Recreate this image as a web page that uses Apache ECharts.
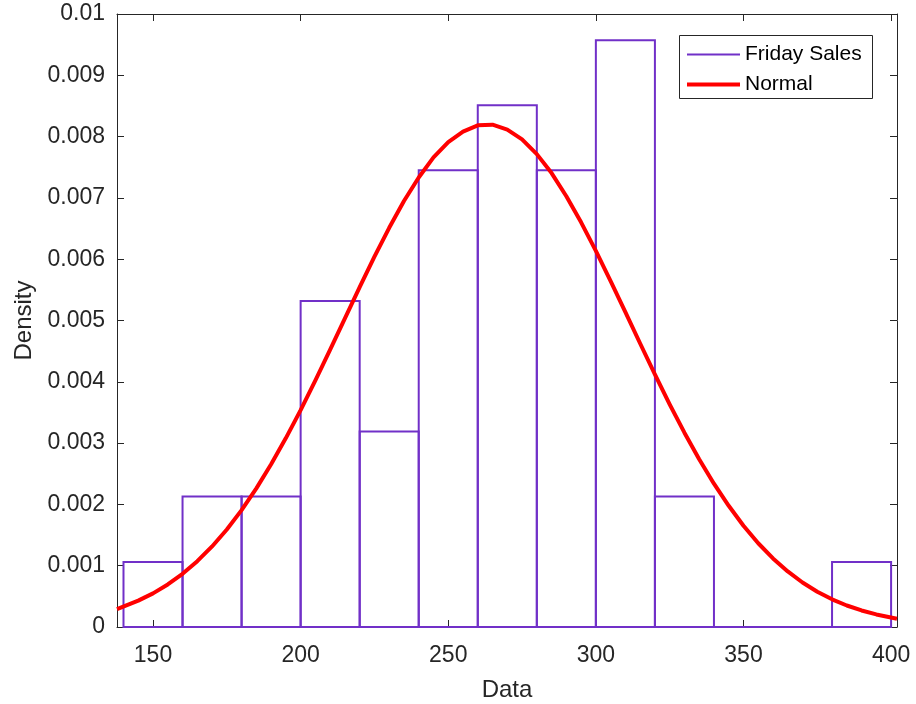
<!DOCTYPE html>
<html>
<head>
<meta charset="utf-8">
<script src="https://cdn.jsdelivr.net/npm/echarts@6/dist/echarts.min.js"></script>
<style>html,body{margin:0;padding:0;background:#fff;}#c{width:916px;height:704px;}</style>
</head>
<body>
<div id="c"></div>
<script>
// Histogram bins (Friday Sales)
var binStart = [140, 160, 180, 200, 220, 240, 260, 280, 300, 320, 340, 360, 380];
var binEnd   = [160, 180, 200, 220, 240, 260, 280, 300, 320, 340, 360, 380, 400];
var density  = [0.00106, 0.00213, 0.00213, 0.00532, 0.00319, 0.00745, 0.00851, 0.00745, 0.00957, 0.00213, 0, 0, 0.00106];

// Normal fit curve
var normX = [137.8, 145, 150, 155, 160, 165, 170, 175, 180, 185, 190, 195, 200, 205, 210, 215, 220, 225, 230, 235, 240, 245, 250, 255, 260, 265, 270, 275, 280, 285, 290, 295, 300, 305, 310, 315, 320, 325, 330, 335, 340, 345, 350, 355, 360, 365, 370, 375, 380, 385, 390, 395, 402];
var normY = [0.000290, 0.000431, 0.000549, 0.000694, 0.000868, 0.001074, 0.001314, 0.001591, 0.001907, 0.002262, 0.002654, 0.003082, 0.003539, 0.004022, 0.004525, 0.005036, 0.005544, 0.006040, 0.006512, 0.006949, 0.007332, 0.007661, 0.007911, 0.008081, 0.008184, 0.008195, 0.008115, 0.007954, 0.007714, 0.007405, 0.007027, 0.006602, 0.006137, 0.005643, 0.005137, 0.004625, 0.004122, 0.003633, 0.003170, 0.002737, 0.002338, 0.001977, 0.001652, 0.001366, 0.001119, 0.000906, 0.000726, 0.000576, 0.000452, 0.000351, 0.000270, 0.000205, 0.000135];

var xTicks = [150, 200, 250, 300, 350, 400];
var yTicks = [0, 0.001, 0.002, 0.003, 0.004, 0.005, 0.006, 0.007, 0.008, 0.009, 0.01];
var yTickLabels = ['0', '0.001', '0.002', '0.003', '0.004', '0.005', '0.006', '0.007', '0.008', '0.009', '0.01'];

var histData = binStart.map(function (s, i) { return [s, binEnd[i], density[i]]; });
var normData = normX.map(function (x, i) { return [x, normY[i]]; });

var PURPLE = '#7130c8';
var RED = '#ff0000';
var AX = '#262626';
var FONT = 'Liberation Sans, Arial, sans-serif';

var chart = echarts.init(document.getElementById('c'), null, {renderer: 'canvas'});

function xAxisCfg(pos, showLabel) {
  return {
    type: 'value', position: pos, min: 137.8, max: 402,
    axisLine: {show: true, onZero: false, lineStyle: {color: AX, width: 1}},
    axisTick: {show: true, inside: true, length: 7, customValues: xTicks, lineStyle: {color: AX}},
    axisLabel: {show: showLabel, customValues: xTicks, color: AX, fontSize: 23, fontFamily: FONT, margin: 17},
    splitLine: {show: false},
    name: showLabel ? 'Data' : '', nameLocation: 'middle', nameGap: 51,
    nameTextStyle: {color: AX, fontSize: 24, fontFamily: FONT}
  };
}
function yAxisCfg(pos, showLabel) {
  return {
    type: 'value', position: pos, min: 0, max: 0.01,
    axisLine: {show: true, onZero: false, lineStyle: {color: AX, width: 1}},
    axisTick: {show: true, inside: true, length: 7, customValues: yTicks, lineStyle: {color: AX}},
    axisLabel: {show: showLabel, customValues: yTicks, color: AX, fontSize: 23, fontFamily: FONT, margin: 12,
      formatter: function (v) { var i = yTicks.findIndex(function (t) { return Math.abs(t - v) < 1e-9; }); return i >= 0 ? yTickLabels[i] : ''; }},
    splitLine: {show: false},
    name: showLabel ? 'Density' : '', nameLocation: 'middle', nameGap: 78, nameRotate: 90,
    nameTextStyle: {color: AX, fontSize: 24, fontFamily: FONT}
  };
}

chart.setOption({
  animation: false,
  backgroundColor: '#fff',
  grid: {left: 117, right: 19, top: 14, bottom: 77, containLabel: false, outerBoundsMode: 'none'},
  xAxis: [xAxisCfg('bottom', true), xAxisCfg('top', false)],
  yAxis: [yAxisCfg('left', true), yAxisCfg('right', false)],
  graphic: [{
    type: 'rect', z: 50, silent: true,
    shape: {x: 679.5, y: 35.5, width: 193, height: 63},
    style: {fill: '#fff', stroke: AX, lineWidth: 1}
  }],
  legend: [{
    z: 60, left: 687, top: 44, padding: 0, itemWidth: 53, itemHeight: 2,
    textStyle: {color: '#000', fontSize: 21, fontFamily: FONT},
    data: [{name: 'Friday Sales', icon: 'rect', itemStyle: {color: PURPLE}}]
  }, {
    z: 60, left: 687, top: 74, padding: 0, itemWidth: 53, itemHeight: 4,
    textStyle: {color: '#000', fontSize: 21, fontFamily: FONT},
    data: [{name: 'Normal', icon: 'rect', itemStyle: {color: RED}}]
  }],
  series: [{
    name: 'Friday Sales', type: 'custom', xAxisIndex: 0, yAxisIndex: 0, z: 2,
    itemStyle: {color: PURPLE},
    data: histData,
    encode: {x: [0, 1], y: 2},
    renderItem: function (params, api) {
      var p0 = api.coord([api.value(0), 0]);
      var p1 = api.coord([api.value(1), api.value(2)]);
      return {
        type: 'rect',
        shape: {x: p0[0], y: p1[1], width: p1[0] - p0[0], height: p0[1] - p1[1]},
        style: {fill: null, stroke: PURPLE, lineWidth: 2}
      };
    }
  }, {
    name: 'Normal', type: 'line', xAxisIndex: 0, yAxisIndex: 0, z: 3,
    data: normData, smooth: false, showSymbol: false,
    lineStyle: {color: RED, width: 4, join: 'round'}, itemStyle: {color: RED}
  }]
});
</script>
</body>
</html>
